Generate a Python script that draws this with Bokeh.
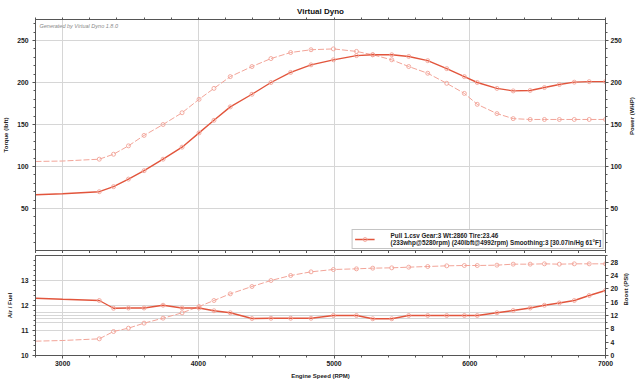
import math
from bokeh.plotting import figure
from bokeh.models import (Range1d, LinearAxis, FixedTicker, Grid,
                          Legend, LegendItem, Label)
from bokeh.layouts import column
from bokeh.embed import file_html
from bokeh.resources import INLINE

# ---------------- data ----------------
rpm = [2800, 3000, 3270, 3375, 3485, 3600, 3740, 3880, 4005, 4115, 4235, 4395,
       4535, 4680, 4830, 4995, 5165, 5285, 5425, 5550, 5690, 5830, 5960, 6055,
       6200, 6320, 6445, 6550, 6660, 6770, 6880, 7000]
torque = [106, 106.5, 108.7, 114.6, 124.6, 137, 150, 164, 180, 193, 207, 219,
          228.5, 235.7, 239, 240, 237, 233, 227, 219, 211, 199, 187, 174,
          163, 157, 156, 156, 156, 156, 156, 156]
power = [66.3, 67.5, 70, 76, 85, 95, 108.7, 123, 140, 155, 171, 186,
         200, 212, 221, 227, 232, 233, 233, 231, 226, 216.5, 207, 200,
         193, 190, 190.5, 194, 197.6, 200.4, 201, 201]
afr = [12.29, 12.25, 12.2, 11.89, 11.9, 11.9, 12.01, 11.9, 11.9, 11.79, 11.71, 11.48,
       11.49, 11.49, 11.49, 11.6, 11.6, 11.47, 11.47, 11.6, 11.6, 11.6, 11.6, 11.6,
       11.71, 11.8, 11.9, 12.01, 12.1, 12.2, 12.4, 12.6]
boost = [4.3, 4.5, 5.0, 7.2, 8.2, 9.7, 11.2, 12.8, 14.7, 16.5, 18.5, 20.7,
         22.5, 24, 25.1, 25.8, 26, 26.2, 26.3, 26.5, 26.7, 26.9, 27, 27,
         27.1, 27.4, 27.4, 27.5, 27.4, 27.5, 27.5, 27.5]
first_marker = 2  # markers are drawn from the 3rd sample on

x_ticks = [3000, 4000, 5000, 6000, 7000]
x_minor = list(range(2800, 7001, 200))
top_y_ticks = [50, 100, 150, 200, 250]
top_y_minor = list(range(10, 271, 10))
afr_ticks = [10, 11, 12, 13]
afr_minor = [round(10 + i * 0.2, 1) for i in range(20)]
boost_ticks = [0, 4, 8, 12, 16, 20, 24, 28]
boost_minor = list(range(0, 31, 2))

title_text = "Virtual Dyno"
credit_text = "Generated by Virtual Dyno 1.8.0"
legend_text = ("Pull 1.csv Gear:3 Wt:2860 Tire:23.46\n"
               "(233whp@5280rpm) (240lbft@4992rpm) Smoothing:3 [30.07in/Hg 61\u00b0F]")

# ---------------- style ----------------
FONT = "Liberation Sans"
DARK = "#e2553c"
LIGHT = "#f2a498"
AX = "#555555"
GRID = "#d6d6d6"
GRID2 = "#ededed"
TXT = "#222222"


def style_axis(ax, label_standoff=4, title_standoff=5):
    ax.axis_line_color = AX
    ax.major_tick_line_color = AX
    ax.minor_tick_line_color = AX
    ax.major_tick_in = 0
    ax.minor_tick_in = 0
    ax.major_tick_out = 3
    ax.minor_tick_out = 2
    ax.major_label_text_font = FONT
    ax.major_label_text_font_size = "6.8px"
    ax.major_label_text_font_style = "bold"
    ax.major_label_text_color = TXT
    ax.major_label_standoff = label_standoff
    ax.axis_label_text_font = FONT
    ax.axis_label_text_font_size = "6px"
    ax.axis_label_text_font_style = "bold"
    ax.axis_label_text_color = TXT
    ax.axis_label_standoff = title_standoff


def tick_only_axis(ax):
    style_axis(ax, 0, 0)
    ax.ticker = FixedTicker(ticks=[], minor_ticks=x_minor)
    ax.minor_tick_out = 3


xr = Range1d(2800, 7000)

# ---------------- top figure ----------------
p1 = figure(width=640, height=253, x_range=xr, y_range=Range1d(0, 275),
            output_backend="svg", toolbar_location=None,
            min_border_left=35, min_border_right=34, min_border_top=19,
            min_border_bottom=3)
p1.title.text = title_text
p1.title.align = "center"
p1.title.text_font = FONT
p1.title.text_font_size = "8px"
p1.title.text_font_style = "bold"
p1.title.text_color = "#111111"
p1.title.standoff = 3
p1.title.offset = 0
p1.outline_line_color = AX

tick_only_axis(p1.xaxis[0])
top_ax = LinearAxis()
tick_only_axis(top_ax)
top_ax.minor_tick_out = 2
p1.add_layout(top_ax, "above")

p1.yaxis.ticker = FixedTicker(ticks=top_y_ticks, minor_ticks=top_y_minor)
p1.yaxis.axis_label = "Torque (lbft)"
style_axis(p1.yaxis[0])

rax = LinearAxis(axis_label="Power (WHP)",
                 ticker=FixedTicker(ticks=top_y_ticks, minor_ticks=top_y_minor))
style_axis(rax, 2, 7)
rax.axis_label_orientation = math.pi / 2
p1.add_layout(rax, "right")

p1.xgrid.ticker = FixedTicker(ticks=x_ticks)
p1.ygrid.ticker = FixedTicker(ticks=top_y_ticks)
p1.xgrid.grid_line_color = GRID
p1.ygrid.grid_line_color = GRID

p1.line(rpm, torque, line_color=LIGHT, line_width=1, line_dash="6 2")
p1.scatter(rpm[first_marker:], torque[first_marker:], marker="circle", size=4,
           line_color=LIGHT, fill_color=None, line_width=0.9)
pw_line = p1.line(rpm, power, line_color=DARK, line_width=1.4)
pw_mk = p1.scatter(rpm[first_marker:], power[first_marker:], marker="circle", size=4,
                   line_color=LIGHT, fill_color=None, line_width=0.9)

p1.add_layout(Label(x=4, y=225, x_units="screen", y_units="screen", text=credit_text,
                    text_font=FONT, text_font_size="5.5px", text_font_style="italic",
                    text_color="#8a8a8a", text_baseline="middle"))

legend = Legend(items=[LegendItem(label=legend_text, renderers=[pw_line, pw_mk])],
                location="bottom_right", margin=1, padding=2, spacing=0,
                glyph_width=20, glyph_height=10, label_standoff=16,
                label_text_font=FONT, label_text_font_size="6.3px",
                label_text_font_style="bold", label_text_color=TXT,
                label_text_line_height=1.1,
                border_line_color="#8a8a8a", border_line_width=1,
                background_fill_color="white", background_fill_alpha=1)
p1.add_layout(legend)

# ---------------- bottom figure ----------------
p2 = figure(width=640, height=130, x_range=xr, y_range=Range1d(10, 14),
            output_backend="svg", toolbar_location=None,
            min_border_left=35, min_border_right=34, min_border_top=2,
            min_border_bottom=28)
p2.outline_line_color = AX
p2.extra_y_ranges = {"boost": Range1d(0, 30)}

p2.xaxis.ticker = FixedTicker(ticks=x_ticks, minor_ticks=x_minor)
p2.xaxis.axis_label = "Engine Speed (RPM)"
style_axis(p2.xaxis[0], 2, 4)

p2.yaxis.ticker = FixedTicker(ticks=afr_ticks, minor_ticks=afr_minor)
p2.yaxis.axis_label = "Air / Fuel"
style_axis(p2.yaxis[0])

bax = LinearAxis(y_range_name="boost", axis_label="Boost (PSI)",
                 ticker=FixedTicker(ticks=boost_ticks, minor_ticks=boost_minor))
style_axis(bax, 2, 5)
bax.axis_label_orientation = math.pi / 2
p2.add_layout(bax, "right")

p2.add_layout(Grid(dimension=1, y_range_name="boost",
                   ticker=FixedTicker(ticks=boost_ticks), grid_line_color=GRID2))
p2.xgrid.ticker = FixedTicker(ticks=x_ticks)
p2.xgrid.grid_line_color = GRID
p2.ygrid.ticker = FixedTicker(ticks=afr_ticks)
p2.ygrid.grid_line_color = GRID

p2.line(rpm, boost, y_range_name="boost", line_color=LIGHT, line_width=1, line_dash="6 2")
p2.scatter(rpm[first_marker:], boost[first_marker:], y_range_name="boost",
           marker="circle", size=4, line_color=LIGHT, fill_color=None, line_width=0.9)
p2.line(rpm, afr, line_color=DARK, line_width=1.4)
p2.scatter(rpm[first_marker:], afr[first_marker:], marker="circle", size=4,
           line_color=LIGHT, fill_color=None, line_width=0.9)

layout = column(p1, p2, spacing=0)
open("out.html", "w").write(file_html(layout, INLINE))
